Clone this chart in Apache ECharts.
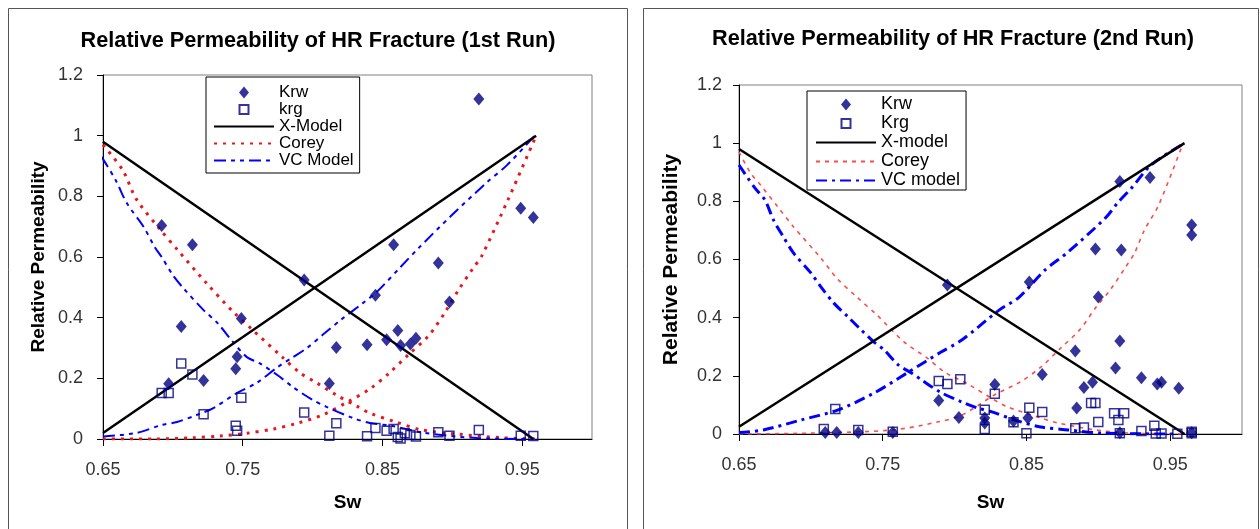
<!DOCTYPE html>
<html>
<head>
<meta charset="utf-8">
<script src="https://cdn.jsdelivr.net/npm/echarts@6/dist/echarts.min.js"></script>
<style>
  html, body { margin: 0; padding: 0; background: #fff; }
  #chart { width: 1260px; height: 529px; }
</style>
</head>
<body>
<div id="chart"></div>
<script>
// axis ticks
const xTicks = [0.65, 0.75, 0.85, 0.95];

// ---- 1st run ----
const krw1 = [[0.692,0.704],[0.697,0.182],[0.706,0.371],[0.714,0.64],[0.722,0.193],[0.745,0.232],[0.746,0.271],
  [0.749,0.397],[0.794,0.524],[0.812,0.183],[0.817,0.302],[0.839,0.311],[0.845,0.474],[0.853,0.327],[0.858,0.64],
  [0.861,0.358],[0.863,0.308],[0.87,0.313],[0.874,0.332],[0.89,0.58],[0.898,0.452],[0.919,1.121],[0.949,0.761],[0.958,0.73]];
const krg1 = [[0.692,0.152],[0.697,0.152],[0.706,0.249],[0.714,0.213],[0.722,0.082],[0.745,0.044],[0.746,0.027],
  [0.749,0.136],[0.794,0.087],[0.812,0.011],[0.817,0.052],[0.839,0.009],[0.845,0.036],[0.853,0.027],[0.858,0.033],
  [0.861,0.007],[0.863,0.002],[0.866,0.019],[0.87,0.013],[0.874,0.008],[0.89,0.022],[0.898,0.011],[0.919,0.03],
  [0.949,0.011],[0.958,0.01]];
const xDown1 = [[0.65,0.98],[0.958,0]];
const xUp1 = [[0.65,0.02],[0.96,1.0]];
const coreyUp1 = [[0.65,0],[0.686,0],[0.714,0.004],[0.734,0.01],[0.753,0.019],[0.772,0.033],[0.789,0.052],[0.807,0.079],
  [0.825,0.122],[0.841,0.165],[0.855,0.218],[0.869,0.28],[0.883,0.34],[0.895,0.419],[0.904,0.488],[0.915,0.564],
  [0.921,0.603],[0.94,0.79],[0.96,1.0]];
const coreyDown1 = [[0.65,0.97],[0.664,0.887],[0.674,0.79],[0.691,0.69],[0.704,0.62],[0.724,0.514],[0.743,0.42],
  [0.757,0.36],[0.779,0.267],[0.791,0.218],[0.803,0.185],[0.817,0.145],[0.833,0.105],[0.841,0.085],[0.859,0.057],
  [0.878,0.03],[0.904,0.016],[0.936,0.004],[0.96,0]];
const vcUp1 = [[0.65,0.008],[0.674,0.02],[0.692,0.046],[0.703,0.056],[0.717,0.079],[0.729,0.102],[0.746,0.152],
  [0.76,0.185],[0.775,0.237],[0.786,0.27],[0.796,0.3],[0.809,0.35],[0.82,0.392],[0.836,0.448],[0.846,0.485],
  [0.863,0.567],[0.876,0.63],[0.899,0.735],[0.925,0.847],[0.939,0.902],[0.959,1.0]];
const vcDown1 = [[0.649,0.93],[0.659,0.854],[0.667,0.778],[0.679,0.7],[0.687,0.633],[0.692,0.6],[0.7,0.54],[0.707,0.5],
  [0.722,0.425],[0.732,0.382],[0.743,0.32],[0.753,0.27],[0.762,0.25],[0.775,0.21],[0.786,0.171],[0.8,0.129],
  [0.81,0.106],[0.829,0.069],[0.841,0.053],[0.857,0.043],[0.88,0.02],[0.918,0.003],[0.96,0]];

// ---- 2nd run ----
const krw2 = [[0.71,0.005],[0.718,0.005],[0.733,0.005],[0.757,0.005],[0.789,0.115],[0.795,0.512],[0.803,0.057],
  [0.821,0.055],[0.821,0.038],[0.828,0.17],[0.841,0.045],[0.851,0.055],[0.852,0.523],[0.861,0.205],[0.884,0.285],
  [0.885,0.089],[0.89,0.16],[0.896,0.178],[0.898,0.636],[0.9,0.471],[0.912,0.227],[0.915,0.32],[0.916,0.633],
  [0.915,0.868],[0.915,0.004],[0.93,0.193],[0.936,0.882],[0.941,0.172],[0.944,0.178],[0.956,0.157],[0.965,0.719],
  [0.965,0.684],[0.965,0.004]];
const krg2 = [[0.709,0.017],[0.717,0.086],[0.733,0.014],[0.757,0.008],[0.789,0.182],[0.795,0.172],[0.804,0.188],
  [0.821,0.083],[0.821,0.017],[0.828,0.138],[0.841,0.04],[0.852,0.09],[0.85,0.003],[0.861,0.076],[0.884,0.02],
  [0.89,0.022],[0.895,0.107],[0.898,0.107],[0.9,0.041],[0.911,0.071],[0.914,0.048],[0.918,0.071],[0.915,0.003],
  [0.93,0.01],[0.939,0.028],[0.94,0.002],[0.944,0.002],[0.955,0.001],[0.965,0.008],[0.965,0.003]];
const xDown2 = [[0.65,0.98],[0.96,0]];
const xUp2 = [[0.65,0.025],[0.96,1.0]];
const coreyUp2 = [[0.65,0],[0.70,0.003],[0.757,0.014],[0.788,0.041],[0.805,0.065],[0.828,0.135],[0.846,0.18],
  [0.86,0.23],[0.874,0.296],[0.887,0.358],[0.898,0.433],[0.909,0.5],[0.919,0.574],[0.925,0.62],[0.932,0.7],
  [0.942,0.787],[0.959,1.0]];
const coreyDown2 = [[0.65,0.97],[0.658,0.898],[0.665,0.856],[0.677,0.781],[0.688,0.712],[0.707,0.605],[0.718,0.536],
  [0.732,0.471],[0.746,0.409],[0.765,0.316],[0.781,0.261],[0.793,0.213],[0.81,0.17],[0.825,0.125],[0.836,0.095],
  [0.86,0.055],[0.872,0.038],[0.898,0.014],[0.923,0.003],[0.96,0]];
const vcUp2 = [[0.65,0.005],[0.667,0.014],[0.693,0.048],[0.719,0.083],[0.744,0.141],[0.767,0.21],[0.79,0.28],
  [0.805,0.323],[0.831,0.426],[0.845,0.471],[0.863,0.564],[0.879,0.626],[0.905,0.743],[0.914,0.798],[0.923,0.845],
  [0.937,0.926],[0.96,1.0]];
const vcDown2 = [[0.65,0.925],[0.661,0.846],[0.668,0.805],[0.674,0.736],[0.681,0.677],[0.688,0.622],[0.7,0.554],
  [0.707,0.506],[0.716,0.45],[0.726,0.402],[0.735,0.358],[0.744,0.316],[0.751,0.289],[0.761,0.237],[0.77,0.21],
  [0.777,0.186],[0.79,0.144],[0.805,0.11],[0.816,0.089],[0.826,0.076],[0.842,0.048],[0.86,0.024],[0.879,0.014],
  [0.902,0.003],[0.955,0]];

const FONT = 'Liberation Sans, Arial, sans-serif';
const NAVY = '#000080';

function xAxisFor(gridIndex, gap) {
  return {
    type: 'value', gridIndex: gridIndex, min: 0.65, max: 1.0,
    name: 'Sw', nameLocation: 'middle', nameGap: gap,
    nameTextStyle: { fontFamily: FONT, fontSize: 19, fontWeight: 'bold', color: '#000' },
    axisLine: { lineStyle: { color: '#000', width: 1 } },
    axisTick: { show: true, length: 7, customValues: xTicks, lineStyle: { color: '#000' } },
    axisLabel: { customValues: xTicks, margin: 22, fontFamily: FONT, fontSize: 18, color: '#333' },
    splitLine: { show: false }
  };
}
function yAxisFor(gridIndex, gap, nameSize, labelMargin) {
  return {
    type: 'value', gridIndex: gridIndex, min: 0, max: 1.2, interval: 0.2,
    name: 'Relative Permeability', nameLocation: 'middle', nameGap: gap,
    nameTextStyle: { fontFamily: FONT, fontSize: nameSize, fontWeight: 'bold', color: '#000' },
    axisLine: { show: true, lineStyle: { color: '#000', width: 1 } },
    axisTick: { show: true, length: 6, lineStyle: { color: '#000' } },
    axisLabel: { margin: labelMargin, fontFamily: FONT, fontSize: 18, color: '#333' },
    splitLine: { show: false }
  };
}
function lineSeries(name, data, idx, style) {
  return { name: name, type: 'line', xAxisIndex: idx, yAxisIndex: idx, data: data, symbol: 'none',
    smooth: style.smooth || false, lineStyle: style.line, itemStyle: { color: style.line.color }, z: style.z || 2 };
}

const xStyle = { line: { color: '#000', width: 2.5, type: 'solid' }, z: 3 };
const corey1Style = { smooth: 0.3, line: { color: '#e8161c', width: 3, type: [3, 6] } };
const vc1Style = { smooth: 0.3, line: { color: '#0000ff', width: 2, type: [12, 5, 4, 5, 4, 5] } };
const corey2Style = { smooth: 0.3, line: { color: '#ff4a4a', width: 1.6, type: [4, 5] } };
const vc2Style = { smooth: 0.3, line: { color: '#0000ff', width: 3, type: [11, 5, 3, 5] } };

const diamond = { type: 'scatter', symbol: 'diamond', symbolSize: [11, 13], itemStyle: { color: NAVY }, z: 5 };
const square = { type: 'scatter', symbol: 'rect', symbolSize: 9,
  itemStyle: { color: 'rgba(255,255,255,0)', borderColor: NAVY, borderWidth: 1.5 }, z: 4 };

// legend marker icons span the whole 60px slot so the marker is not stretched
const diamondIcon = 'path://M0,6L0,6M60,6L60,6M30,0L35,6L30,12L25,6Z';
const squareIcon = 'path://M0,6L0,6M60,6L60,6M25.5,1.5L34.5,1.5L34.5,10.5L25.5,10.5Z';

const legendBase = {
  orient: 'vertical', selectedMode: false, backgroundColor: '#fff', borderColor: '#000', borderWidth: 1,
  itemWidth: 60, itemHeight: 12, itemGap: 0, align: 'left'
};
function markerItem(name, icon) { return { name: name, icon: icon }; }
function lineItem(name) { return { name: name, itemStyle: { opacity: 0 } }; }

const chart = echarts.init(document.getElementById('chart'));
chart.setOption({
  animation: false,
  backgroundColor: '#fff',
  title: [
    { text: 'Relative Permeability of HR Fracture (1st Run)', left: 318, top: 30, textAlign: 'center', padding: 0,
      textStyle: { fontFamily: FONT, fontSize: 21.7, fontWeight: 'bold', color: '#000' } },
    { text: 'Relative Permeability of HR Fracture (2nd Run)', left: 953, top: 28, textAlign: 'center', padding: 0,
      textStyle: { fontFamily: FONT, fontSize: 21.7, fontWeight: 'bold', color: '#000' } }
  ],
  graphic: [
    { type: 'rect', shape: { x: 8.5, y: 8.5, width: 619, height: 560 }, style: { fill: 'none', stroke: '#555', lineWidth: 1 }, silent: true },
    { type: 'rect', shape: { x: 643.5, y: 8.5, width: 615, height: 560 }, style: { fill: 'none', stroke: '#555', lineWidth: 1 }, silent: true }
  ],
  grid: [
    { left: 103, top: 75, width: 489, height: 364, show: true, borderColor: '#808080', borderWidth: 1, backgroundColor: '#fff' },
    { left: 739, top: 85, width: 503, height: 349, show: true, borderColor: '#808080', borderWidth: 1, backgroundColor: '#fff' }
  ],
  xAxis: [xAxisFor(0, 54), xAxisFor(1, 59)],
  yAxis: [yAxisFor(0, 55, 19, 20), yAxisFor(1, 57, 21, 17)],
  legend: [
    Object.assign({}, legendBase, {
      left: 206, top: 77, padding: [7, 6, 4, 7],
      data: [markerItem('Krw', diamondIcon), markerItem('krg', squareIcon), lineItem('X-Model'), lineItem('Corey'), lineItem('VC Model')],
      textStyle: { fontFamily: FONT, fontSize: 17, lineHeight: 17, color: '#000' }
    }),
    Object.assign({}, legendBase, {
      left: 807, top: 91, padding: [4, 6, 0, 8],
      data: [markerItem('Krw ', diamondIcon), markerItem('Krg', squareIcon), lineItem('X-model'), lineItem('Corey '), lineItem('VC model')],
      formatter: function (n) { return n.trim(); },
      textStyle: { fontFamily: FONT, fontSize: 18, lineHeight: 19, color: '#000' }
    })
  ],
  series: [
    lineSeries('X-Model', xDown1, 0, xStyle),
    lineSeries('X-Model', xUp1, 0, xStyle),
    lineSeries('Corey', coreyUp1, 0, corey1Style),
    lineSeries('Corey', coreyDown1, 0, corey1Style),
    lineSeries('VC Model', vcUp1, 0, vc1Style),
    lineSeries('VC Model', vcDown1, 0, vc1Style),
    Object.assign({}, square, { name: 'krg', xAxisIndex: 0, yAxisIndex: 0, data: krg1 }),
    Object.assign({}, diamond, { name: 'Krw', xAxisIndex: 0, yAxisIndex: 0, data: krw1 }),

    lineSeries('X-model', xDown2, 1, xStyle),
    lineSeries('X-model', xUp2, 1, xStyle),
    lineSeries('Corey ', coreyUp2, 1, corey2Style),
    lineSeries('Corey ', coreyDown2, 1, corey2Style),
    lineSeries('VC model', vcUp2, 1, vc2Style),
    lineSeries('VC model', vcDown2, 1, vc2Style),
    Object.assign({}, square, { name: 'Krg', xAxisIndex: 1, yAxisIndex: 1, data: krg2 }),
    Object.assign({}, diamond, { name: 'Krw ', xAxisIndex: 1, yAxisIndex: 1, data: krw2 })
  ]
});
</script>
</body>
</html>
